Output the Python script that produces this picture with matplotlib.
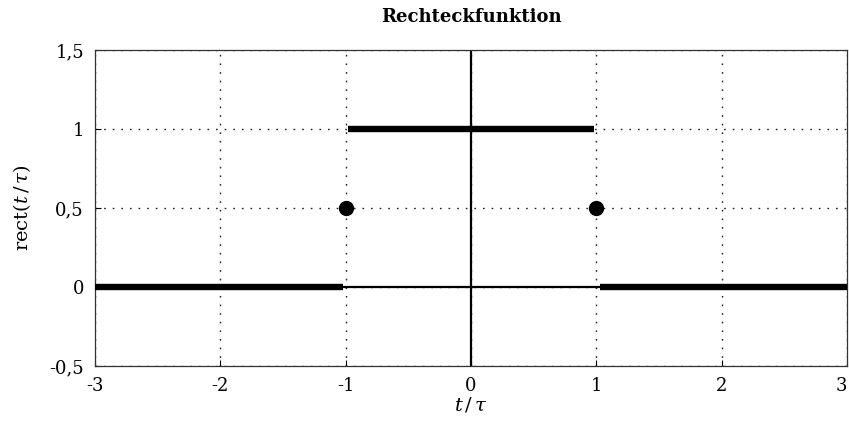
import matplotlib
matplotlib.use("Agg")
import matplotlib.pyplot as plt
from matplotlib.ticker import FuncFormatter

plt.rcParams["font.family"] = ["DejaVu Serif"]
plt.rcParams["mathtext.fontset"] = "dejavuserif"

# Werte der Rechteckfunktion (Segmente mit kleinen Lücken an den Sprungstellen)
seg_x = [[-3.0, -1.02], [-0.98, 0.98], [1.03, 3.0]]
seg_y = [[0.0, 0.0], [1.0, 1.0], [0.0, 0.0]]
dot_x = [-1.0, 1.0]
dot_y = [0.5, 0.5]
x_ticks = [-3, -2, -1, 0, 1, 2, 3]
y_ticks = [-0.5, 0, 0.5, 1, 1.5]

fig = plt.figure(figsize=(8.49, 4.21), dpi=100)
ax = fig.add_axes([0.1119, 0.1306, 0.8857, 0.7506])

ax.axhline(0, color="black", lw=1.6, zorder=2)
ax.axvline(0, color="black", lw=1.6, zorder=2)
for xs, ys in zip(seg_x, seg_y):
    ax.plot(xs, ys, color="black", lw=4.6, solid_capstyle="butt", zorder=3)
ax.plot(dot_x, dot_y, "o", color="black", ms=10, zorder=4)

ax.set_xlim(-3, 3)
ax.set_ylim(-0.5, 1.5)
ax.set_xticks(x_ticks)
ax.set_yticks(y_ticks)
fmt = FuncFormatter(lambda v, p: ("%g" % v).replace(".", ","))
ax.xaxis.set_major_formatter(fmt)
ax.yaxis.set_major_formatter(fmt)
ax.tick_params(direction="in", length=4, width=0.8, labelsize=13, pad=8)
ax.grid(True, linestyle=(0, (1.2, 5)), color="#222222", linewidth=1.0, zorder=1)
for s in ax.spines.values():
    s.set_linewidth(0.9)
    s.set_color("#333333")

# letzte Beschriftung am rechten Rand nicht abschneiden
ax.get_xticklabels()[-1].set_horizontalalignment("right")

ax.set_title("Rechteckfunktion", fontsize=13, fontweight="bold", pad=20)
ax.set_xlabel(r"$t\,/\,\tau$", fontsize=14, labelpad=0)
ax.set_ylabel(r"$\mathrm{rect}(t\,/\,\tau)$", fontsize=14, labelpad=12)

fig.savefig("out.png", dpi=100)
